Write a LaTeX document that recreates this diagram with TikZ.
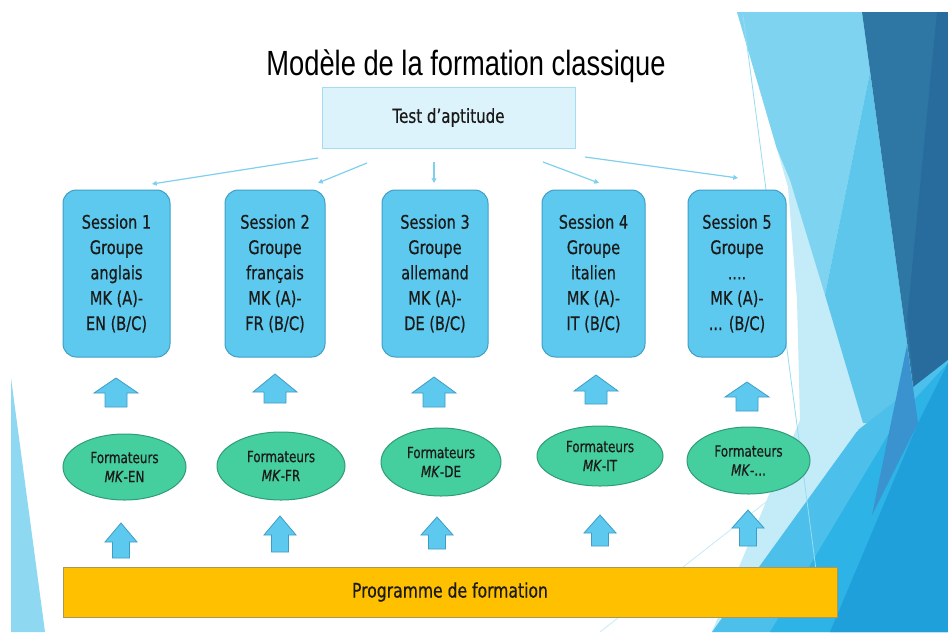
\documentclass[tikz,border=0pt]{standalone}
\usepackage{fontspec}
\newfontfamily\boxfont{DejaVu Sans}[FakeStretch=0.78,FakeBold=0.5]
\newfontfamily\titlefont{Liberation Sans}[FakeStretch=0.78]
\usetikzlibrary{shapes.geometric,arrows.meta}
\definecolor{sessfill}{HTML}{5DC9EE}
\definecolor{sessedge}{HTML}{3F9FC6}
\definecolor{arredge}{HTML}{3E9DC8}
\definecolor{formfill}{HTML}{45CE9E}
\definecolor{formedge}{HTML}{2E9C78}
\definecolor{progfill}{HTML}{FFC000}
\definecolor{progedge}{HTML}{A8985A}
\definecolor{testfill}{HTML}{DDF3FB}
\definecolor{testedge}{HTML}{A3DDF1}
\definecolor{connc}{HTML}{7ED0EE}
\definecolor{txt}{HTML}{1A1A1A}
\definecolor{bgvl}{HTML}{C4EBF8}
\definecolor{bglight}{HTML}{7DD3F0}
\definecolor{bgmed}{HTML}{5EC6EB}
\definecolor{bgdark}{HTML}{2E77A5}
\definecolor{bgdarker}{HTML}{286B9D}
\definecolor{bgbright}{HTML}{4CC0EA}
\definecolor{bgbright2}{HTML}{2EB3E6}
\definecolor{bgdeep}{HTML}{1FA0DA}
\definecolor{bgband}{HTML}{3A93CF}
\definecolor{bgleft}{HTML}{8ED8F2}
\newcommand{\blockup}[7]{%
  \draw[blockarr] (#1,#2) -- (#1+#5,#3) -- (#1+#6,#3) -- (#1+#6,#4)
    -- (#1-#6,#4) -- (#1-#6,#3) -- (#1-#5,#3) -- cycle;
  \coordinate (#7) at (#1,#3);}
\tikzset{
  sess/.style={draw=sessedge, fill=sessfill, line width=0.75pt, rounded corners=10pt,
    align=center, text=txt, inner sep=0pt, minimum height=167*0.75pt,
    font=\boxfont\fontsize{14}{19}\selectfont},
  form/.style={ellipse, draw=formedge, fill=formfill, line width=0.75pt, align=center,
    text=txt, inner sep=0pt, font=\boxfont\fontsize{11.5}{14.3}\selectfont},
  progbox/.style={rectangle, draw=progedge, fill=progfill, line width=0.75pt, text=txt,
    inner sep=0pt, font=\boxfont\fontsize{15}{18}\selectfont},
  testbox/.style={rectangle, draw=testedge, fill=testfill, line width=0.75pt, text=txt,
    inner sep=0pt, font=\boxfont\fontsize{14.5}{18}\selectfont},
  titlestyle/.style={text=black, inner sep=0pt, font=\titlefont\fontsize{26.25}{30}\selectfont},
  conn/.style={draw=connc, line width=0.9pt, -{Triangle[length=3.5pt,width=3.5pt]}},
  blockarr/.style={fill=sessfill, draw=arredge, line width=0.6pt},
}
\begin{document}
\begin{tikzpicture}[x=0.75pt,y=-0.75pt]
\useasboundingbox (0,0) rectangle (948,632);
\fill[white] (0,0) rectangle (948,632);
% left decoration
\fill[bgleft] (11,378) -- (45,632) -- (11,632) -- cycle;
% right decoration
\begin{scope}
  \clip (737,12) -- (948,12) -- (948,632) -- (712,632) -- (800,420) -- (797,300) -- (788,187) -- cycle;
  \fill[bgvl] (700,0) rectangle (948,632);
  \fill[bglight] (737,12) -- (862,12) -- (870,72) -- (825,295) -- (790,180) -- (720,12) -- cycle;
  \fill[bgmed] (870,72) -- (918,423) -- (863,423) -- (825,295) -- cycle;
  \fill[bgdark] (862,12) -- (948,12) -- (948,363) -- (918,423) -- cycle;
  \fill[bgdarker] (937,12) -- (948,12) -- (948,363) -- (918,423) -- (907,320) -- cycle;
  \fill[bgbright] (858,430) -- (948,360) -- (948,632) -- (712,632) -- cycle;
  \fill[bgbright2] (900,415) -- (948,363) -- (948,632) -- (770,632) -- cycle;
  \fill[bgdeep] (918,423) -- (948,363) -- (948,632) -- (830,632) -- cycle;
  \fill[bgband] (907,345) -- (918,423) -- (872,515) -- cycle;
\end{scope}
\draw[color=bgvl, line width=0.6pt] (600,632) -- (858,430);
\draw[color=bglight!80, line width=0.6pt] (743,15) -- (820,600);
% title
\node[titlestyle, anchor=base] (title) at (466,75) {Modèle de la formation classique};
% test box
\node[testbox, minimum width=253*0.75pt, minimum height=61*0.75pt] (test) at (448.5,117.5) {Test d’aptitude};
% sessions
\node[sess, minimum width=107*0.75pt] (s1) at (116.5,273.5) {Session 1\\Groupe\\anglais\\MK (A)-\\EN (B/C)};
\node[sess, minimum width=100*0.75pt] (s2) at (275,273.5) {Session 2\\Groupe\\français\\MK (A)-\\FR (B/C)};
\node[sess, minimum width=106*0.75pt] (s3) at (435,273.5) {Session 3\\Groupe\\allemand\\MK (A)-\\DE (B/C)};
\node[sess, minimum width=103*0.75pt] (s4) at (593.5,273.5) {Session 4\\Groupe\\italien\\MK (A)-\\IT (B/C)};
\node[sess, minimum width=98*0.75pt] (s5) at (737,273.5) {Session 5\\Groupe\\....\\MK (A)-\\... (B/C)};
% connectors from test box
\coordinate (c1a) at (318,158); \coordinate (c1b) at (152,184);
\coordinate (c2a) at (367,163); \coordinate (c2b) at (318,183);
\coordinate (c3a) at (434,162); \coordinate (c3b) at (434,183);
\coordinate (c4a) at (543,162); \coordinate (c4b) at (599,183);
\coordinate (c5a) at (585,157); \coordinate (c5b) at (738,178);
\draw[conn] (c1a) -- (c1b);
\draw[conn] (c2a) -- (c2b);
\draw[conn] (c3a) -- (c3b);
\draw[conn] (c4a) -- (c4b);
\draw[conn] (c5a) -- (c5b);
% formateurs
\node[form, minimum width=123*0.75pt, minimum height=66*0.75pt] (f1) at (124.5,467) {Formateurs\\\textit{MK}-EN};
\node[form, minimum width=128*0.75pt, minimum height=68*0.75pt] (f2) at (281,466) {Formateurs\\\textit{MK}-FR};
\node[form, minimum width=120*0.75pt, minimum height=68*0.75pt] (f3) at (441,462) {Formateurs\\\textit{MK}-DE};
\node[form, minimum width=126*0.75pt, minimum height=60*0.75pt] (f4) at (600,456) {Formateurs\\\textit{MK}-IT};
\node[form, minimum width=123*0.75pt, minimum height=67*0.75pt] (f5) at (748.5,460.5) {Formateurs\\\textit{MK}-...};
% programme
\node[progbox, minimum width=774*0.75pt, minimum height=50*0.75pt] (prog) at (450,592) {Programme de formation};
% block arrows: formateurs -> sessions
\blockup{116}{378}{393}{407}{22}{11}{u1}
\blockup{275}{374}{392}{403}{22}{11}{u2}
\blockup{434}{377}{393}{407}{22}{11}{u3}
\blockup{596}{375}{391}{404}{22}{11}{u4}
\blockup{747}{382}{397}{411}{22}{11}{u5}
% block arrows: programme -> formateurs
\blockup{121}{523}{542}{558}{16}{8.5}{b1}
\blockup{280}{516}{535}{552}{16}{8.5}{b2}
\blockup{437}{517}{535}{549}{16}{8.5}{b3}
\blockup{600}{515}{533}{546}{16}{8.5}{b4}
\blockup{748}{510}{528}{546}{16}{8.5}{b5}
\end{tikzpicture}
\end{document}
